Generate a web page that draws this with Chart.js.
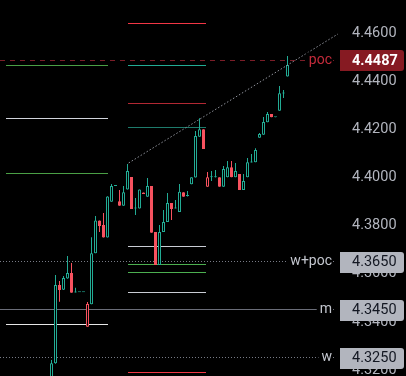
<!DOCTYPE html>
<html><head><meta charset="utf-8">
<script src="https://cdn.jsdelivr.net/npm/chart.js@4.4.0/dist/chart.umd.min.js"></script>
<style>html,body{margin:0;padding:0;background:#000;overflow:hidden}canvas{display:block}</style>
</head><body>
<canvas id="c" width="406" height="376"></canvas>
<script>
// ---- candle data (index = bar number) ----
const opens  = [4.3075,4.3228,4.3553,4.3534,4.3580,4.3603,4.3522,4.3523,4.3523,4.3380,
                4.3473,4.3685,4.3822,4.3803,4.3751,4.3900,4.3965,4.3902,4.3883,4.3951,
                4.4002,4.3872,4.3871,4.3938,4.3920,4.3965,4.3774,4.3637,4.3774,4.3815,
                4.3894,4.3872,4.3857,4.3939,4.3923,4.3972,4.4000,4.4170,4.4201,4.3962,
                4.4001,4.4001,4.4001,4.3962,4.4001,4.4043,4.4001,4.4015,4.3948,4.4001,
                4.4063,4.4064,4.4166,4.4178,4.4230,4.4264,4.4251,4.4278,4.4350,4.4420];
const highs  = [4.3242,4.3595,4.3570,4.3591,4.3674,4.3645,4.3542,4.3523,4.3523,4.3483,
                4.3752,4.3840,4.3822,4.3853,4.3922,4.3973,4.3966,4.3948,4.3965,4.4057,
                4.4002,4.3915,4.3951,4.3938,4.3998,4.3965,4.3774,4.3803,4.3865,4.3936,
                4.3894,4.3907,4.3973,4.3939,4.3944,4.4001,4.4194,4.4247,4.4201,4.4023,
                4.4027,4.4032,4.4001,4.4048,4.4069,4.4069,4.4061,4.4015,4.4015,4.4082,
                4.4098,4.4122,4.4185,4.4252,4.4273,4.4264,4.4252,4.4381,4.4364,4.4506];
const lows   = [4.3070,4.3226,4.3484,4.3533,4.3579,4.3521,4.3522,4.3523,4.3523,4.3380,
                4.3473,4.3685,4.3774,4.3751,4.3751,4.3900,4.3965,4.3883,4.3883,4.3951,
                4.3869,4.3844,4.3871,4.3932,4.3920,4.3771,4.3637,4.3637,4.3774,4.3815,
                4.3824,4.3872,4.3857,4.3920,4.3921,4.3972,4.4000,4.4170,4.4119,4.3962,
                4.3986,4.4000,4.3962,4.3962,4.4001,4.4001,4.4001,4.3948,4.3948,4.4001,
                4.4063,4.4064,4.4166,4.4178,4.4230,4.4251,4.4251,4.4278,4.4331,4.4420];
const closes = [4.3228,4.3553,4.3533,4.3583,4.3603,4.3521,4.3523,4.3523,4.3523,4.3474,
                4.3685,4.3822,4.3799,4.3751,4.3921,4.3965,4.3965,4.3883,4.3939,4.4027,
                4.3869,4.3873,4.3951,4.3932,4.3965,4.3771,4.3637,4.3774,4.3815,4.3894,
                4.3869,4.3873,4.3941,4.3920,4.3924,4.4001,4.4173,4.4201,4.4119,4.4001,
                4.4002,4.4002,4.3962,4.4036,4.4043,4.4001,4.4027,4.3948,4.3986,4.4064,
                4.4064,4.4115,4.4181,4.4231,4.4264,4.4251,4.4252,4.4351,4.4351,4.4468];

// ---- axis ----
const tickValues = [4.32,4.34,4.36,4.38,4.40,4.42,4.44,4.46];

// ---- labelled full-width price lines ----
const priceLineNames  = ['poc','w+poc','m','w'];
const priceLineValues = [4.4487,4.3650,4.3450,4.3250];

// ---- level segments (price, from bar index, to bar index) ----
const levelPrices = [4.4466,4.4246,4.4017,4.3389, 4.4641,4.4466,4.4308,4.4208,4.3714,4.3639,4.3605,4.3522,4.3190];
const levelFrom   = [-11.375,-11.375,-11.375,-11.375, 19.2,19.2,19.2,19.2,19.2,19.2,19.2,19.2,19.2];
const levelTo     = [14.125,14.125,14.125,14.125, 38.55,38.55,38.55,38.55,38.55,38.55,38.55,38.55,38.55];

// ---- trend line (bar index, price) ----
const trendX = [19.3, 71.6];
const trendY = [4.4061, 4.4597];

// ---- styles ----
const TEAL='#22ab94', RED='#f7525f', BG='#000000';
const levelColors = ['#4a9f45','#d1d4dc','#4a9f45','#e6e6e6',
                     '#f23645','#22ab94','#b22833','#1e7b6c','#c9ccd4','#4caf50','#4caf50','#c9ccd4','#f23645'];
const priceLineStyles = [
  {line:'#7b1d27', dash:[5,5], text:'#c42b3b', box:'#861a22', boxText:'#ffffff', bold:true},
  {line:'#787b86', dash:[1,2], text:'#c3c6ce', box:'#b2b5be', boxText:'#131722', bold:false},
  {line:'#6a6d78', dash:[],    text:'#c3c6ce', box:'#b2b5be', boxText:'#131722', bold:false},
  {line:'#787b86', dash:[1,2], text:'#c3c6ce', box:'#b2b5be', boxText:'#131722', bold:false}
];
const FONT = 'Roboto, "Liberation Sans", sans-serif';

const candleColor = closes.map((c,i)=> c >= (i>0 ? closes[i-1] : opens[i]) ? TEAL : RED);
const bodyFill = closes.map((c,i)=> c >= opens[i] ? BG : candleColor[i]);

const levelsPlugin = {
  id:'levels',
  beforeDatasetsDraw(chart){
    const {ctx, chartArea} = chart; const xs = chart.scales.x, ys = chart.scales.y;
    ctx.save();
    ctx.lineWidth = 1;
    levelPrices.forEach((p,i)=>{
      const py = Math.floor(ys.getPixelForValue(p))+0.5;
      ctx.strokeStyle = levelColors[i];
      ctx.beginPath();
      ctx.moveTo(Math.round(xs.getPixelForValue(levelFrom[i])), py);
      ctx.lineTo(Math.round(xs.getPixelForValue(levelTo[i])), py);
      ctx.stroke();
    });
    priceLineValues.forEach((v,i)=>{
      const st = priceLineStyles[i];
      const py = Math.floor(ys.getPixelForValue(v))+0.5;
      ctx.setLineDash(st.dash);
      ctx.strokeStyle = st.line;
      ctx.beginPath(); ctx.moveTo(chartArea.left, py); ctx.lineTo(chartArea.right-6, py); ctx.stroke();
    });
    ctx.setLineDash([]);
    ctx.restore();
  },
  afterDraw(chart){
    const {ctx, chartArea} = chart; const ys = chart.scales.y;
    ctx.save();
    priceLineValues.forEach((v,i)=>{
      const st = priceLineStyles[i];
      const yc = ys.getPixelForValue(v);
      ctx.font = '14px ' + FONT;
      ctx.textBaseline = 'middle';
      ctx.textAlign = 'right';
      const w = ctx.measureText(priceLineNames[i]).width;
      const xr = chartArea.right - 8;
      ctx.fillStyle = BG;
      ctx.fillRect(xr - w - 3, yc - 8, w + 4, 16);
      ctx.fillStyle = st.text;
      ctx.fillText(priceLineNames[i], xr, yc);
      const top = Math.round(yc) - 10;
      ctx.fillStyle = st.box;
      ctx.beginPath();
      if (ctx.roundRect) ctx.roundRect(chartArea.right, top, 64, 21, [0,3,3,0]); else ctx.rect(chartArea.right, top, 64, 21);
      ctx.fill();
      ctx.fillStyle = st.boxText;
      ctx.textAlign = 'left';
      ctx.font = (st.bold ? 'bold ' : '') + '14.5px ' + FONT;
      ctx.fillText(v.toFixed(4), chartArea.right + 12, yc + 0.5);
    });
    ctx.restore();
  }
};

new Chart(document.getElementById('c'), {
  type:'bar',
  data:{
    datasets:[
      { type:'line', data: trendX.map((x,i)=>({x, y:trendY[i]})), borderColor:'#8f929b', borderWidth:1,
        borderDash:[1.5,2], pointRadius:0, order:0 },
      { label:'body', data: opens.map((o,i)=>({x:i, y:[o, closes[i]]})),
        backgroundColor: bodyFill, borderColor: candleColor, borderWidth:1, borderSkipped:false,
        barThickness:3, maxBarThickness:3, minBarLength:1, grouped:false, inflateAmount:0, order:1 },
      { label:'wick', data: lows.map((l,i)=>({x:i, y:[l, highs[i]]})),
        backgroundColor: candleColor, borderWidth:0, barThickness:1, maxBarThickness:1,
        grouped:false, inflateAmount:0, order:2 }
    ]
  },
  options:{
    responsive:false, animation:false, devicePixelRatio:1,
    layout:{padding:0},
    plugins:{legend:{display:false}, tooltip:{enabled:false}},
    scales:{
      x:{ type:'linear', display:false, min:-12.875, max:72.125, offset:false },
      y:{ position:'right', min:4.317505, max:4.473846,
          grid:{display:false, drawTicks:false}, border:{display:false},
          afterFit(s){ s.width = 66; s.paddingTop = 0; s.paddingBottom = 0; },
          afterBuildTicks(s){ s.ticks = tickValues.map(v=>({value:v})); },
          ticks:{ color:'#b2b5be', padding:12, autoSkip:false,
                  font:{family:FONT, size:14.5}, callback:v=>Number(v).toFixed(4) } }
    }
  },
  plugins:[levelsPlugin]
});
</script>
</body></html>
